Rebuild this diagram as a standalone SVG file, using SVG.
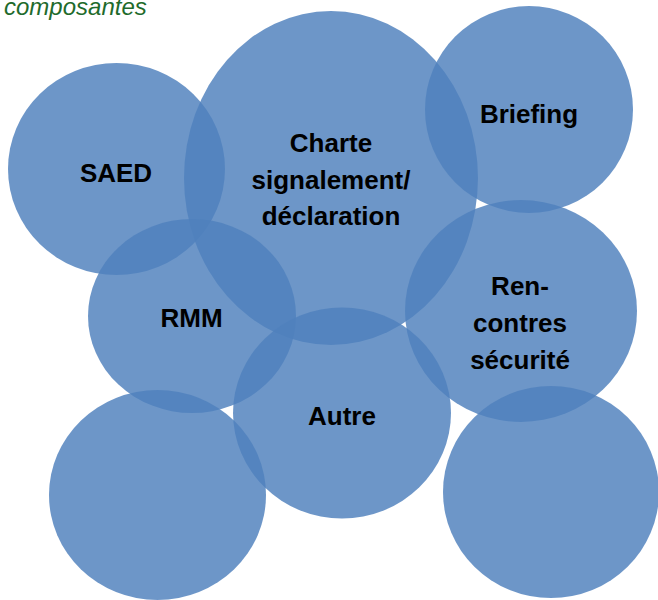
<svg xmlns="http://www.w3.org/2000/svg" width="658" height="600" viewBox="0 0 658 600">
<style>
.c{fill:#4F81BD;fill-opacity:0.83}
.t{font-family:"Liberation Sans",Arial,sans-serif;font-weight:bold;font-size:26px;fill:#000;text-anchor:middle}
.h{font-family:"Liberation Sans",Arial,sans-serif;font-style:italic;font-size:24px;fill:#1F6B2C}
</style>
<rect width="658" height="600" fill="#fff"/>
<text class="h" x="4" y="15">composantes</text>
<g id="saed"><ellipse class="c" cx="116.5" cy="169" rx="108.5" ry="106"/><text class="t" x="116" y="182">SAED</text></g>
<g id="charte"><ellipse class="c" cx="331" cy="178" rx="147" ry="167"/><text class="t" x="331" y="152">Charte</text><text class="t" x="331" y="188.5">signalement/</text><text class="t" x="331" y="225">déclaration</text></g>
<g id="briefing"><ellipse class="c" cx="529" cy="109.5" rx="104" ry="103.5"/><text class="t" x="529" y="123">Briefing</text></g>
<g id="rmm"><ellipse class="c" cx="192" cy="316" rx="104" ry="97"/><text class="t" x="191.5" y="327">RMM</text></g>
<g id="rencontres"><ellipse class="c" cx="521" cy="311" rx="116" ry="111"/><text class="t" x="520" y="295">Ren-</text><text class="t" x="520" y="332">contres</text><text class="t" x="520" y="369">sécurité</text></g>
<g id="autre"><ellipse class="c" cx="342" cy="413" rx="109" ry="105.5"/><text class="t" x="342" y="425">Autre</text></g>
<g id="bl"><ellipse class="c" cx="157.5" cy="495" rx="108.5" ry="105"/></g>
<g id="br"><ellipse class="c" cx="551" cy="492" rx="108" ry="106"/></g>
<g id="connectors"/>
</svg>
